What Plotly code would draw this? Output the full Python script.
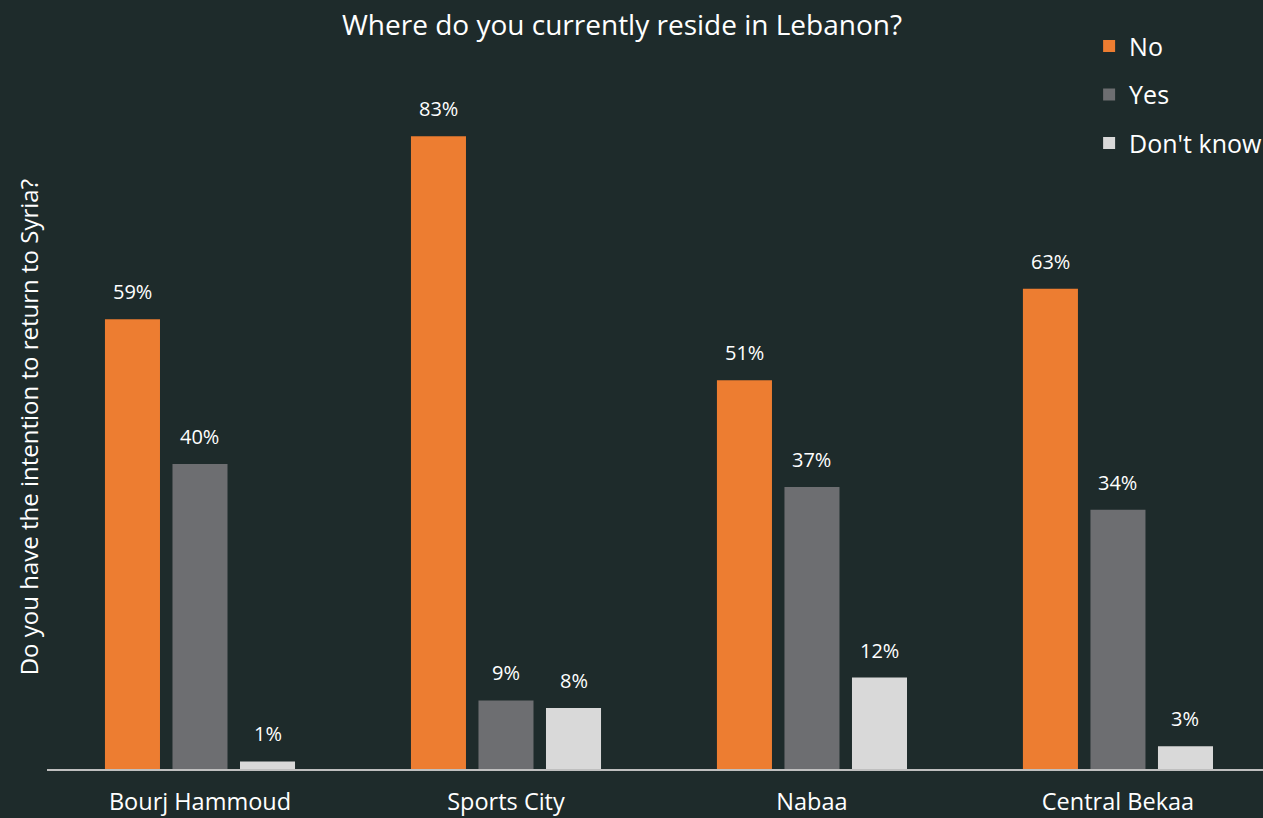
import plotly.graph_objects as go

# Survey results: intention to return to Syria, by place of residence in Lebanon
locations = ["Bourj Hammoud", "Sports City", "Nabaa", "Central Bekaa"]
answers = ["No", "Yes", "Don't know"]
no_pct = [59, 83, 51, 63]
yes_pct = [40, 9, 37, 34]
dont_know_pct = [1, 8, 12, 3]

series = [no_pct, yes_pct, dont_know_pct]
colors = ["#ED7D31", "#6D6E71", "#D9D9D9"]

BG = "#1E2B2B"
FONT = "Open Sans"

x_pos = list(range(len(locations)))

fig = go.Figure()
for i, (name, vals, col) in enumerate(zip(answers, series, colors)):
    fig.add_trace(go.Bar(
        x=x_pos, y=vals, name=name, marker=dict(color=col, line=dict(width=0)),
        legendgroup=name, hoverinfo="skip",
    ))

# Percentage labels above each bar
bargap = 0.338
slot = (1 - bargap) / len(answers)
for i, vals in enumerate(series):
    off = (i - (len(answers) - 1) / 2) * slot
    for xi, v in zip(x_pos, vals):
        fig.add_annotation(
            x=xi + off, y=v, xref="x", yref="y", text=f"{v}%",
            showarrow=False, yanchor="bottom", yshift=12,
            font=dict(family=FONT, size=20, color="#FFFFFF"),
        )

# Vertical axis title
fig.add_annotation(
    text="Do you have the intention to return to Syria?",
    xref="paper", yref="paper", x=-0.0156, y=0.482, textangle=-90,
    xanchor="center", yanchor="middle",
    showarrow=False, font=dict(family=FONT, size=24, color="#FFFFFF"),
)

fig.update_layout(
    width=1263, height=818,
    paper_bgcolor=BG, plot_bgcolor=BG,
    margin=dict(l=47, r=0, t=60, b=49, autoexpand=False),
    barmode="group", bargap=bargap, bargroupgap=0.185,
    title=dict(
        text="Where do you currently reside in Lebanon?",
        x=0.4925, xref="container", xanchor="center",
        y=0.969, yref="container", yanchor="middle",
        font=dict(family=FONT, size=28, color="#FFFFFF"),
    ),
    xaxis=dict(
        tickmode="array", tickvals=x_pos, ticktext=locations,
        range=[-0.5, 3.474], showgrid=False, zeroline=False,
        showline=True, linecolor="#BFBFBF", linewidth=2,
        ticks="outside", ticklen=11, tickcolor="rgba(0,0,0,0)",
        tickfont=dict(family=FONT, size=23.5, color="#FFFFFF"),
    ),
    yaxis=dict(
        range=[0, 93.0], showgrid=False, zeroline=False,
        showticklabels=False, showline=False,
    ),
    legend=dict(
        x=0.857, y=1.052, xanchor="left", yanchor="top",
        bgcolor="rgba(0,0,0,0)", font=dict(family=FONT, size=25, color="#FFFFFF"),
        tracegroupgap=13, itemwidth=30, traceorder="grouped",
    ),
    showlegend=True,
)

fig.write_html("out.html")
